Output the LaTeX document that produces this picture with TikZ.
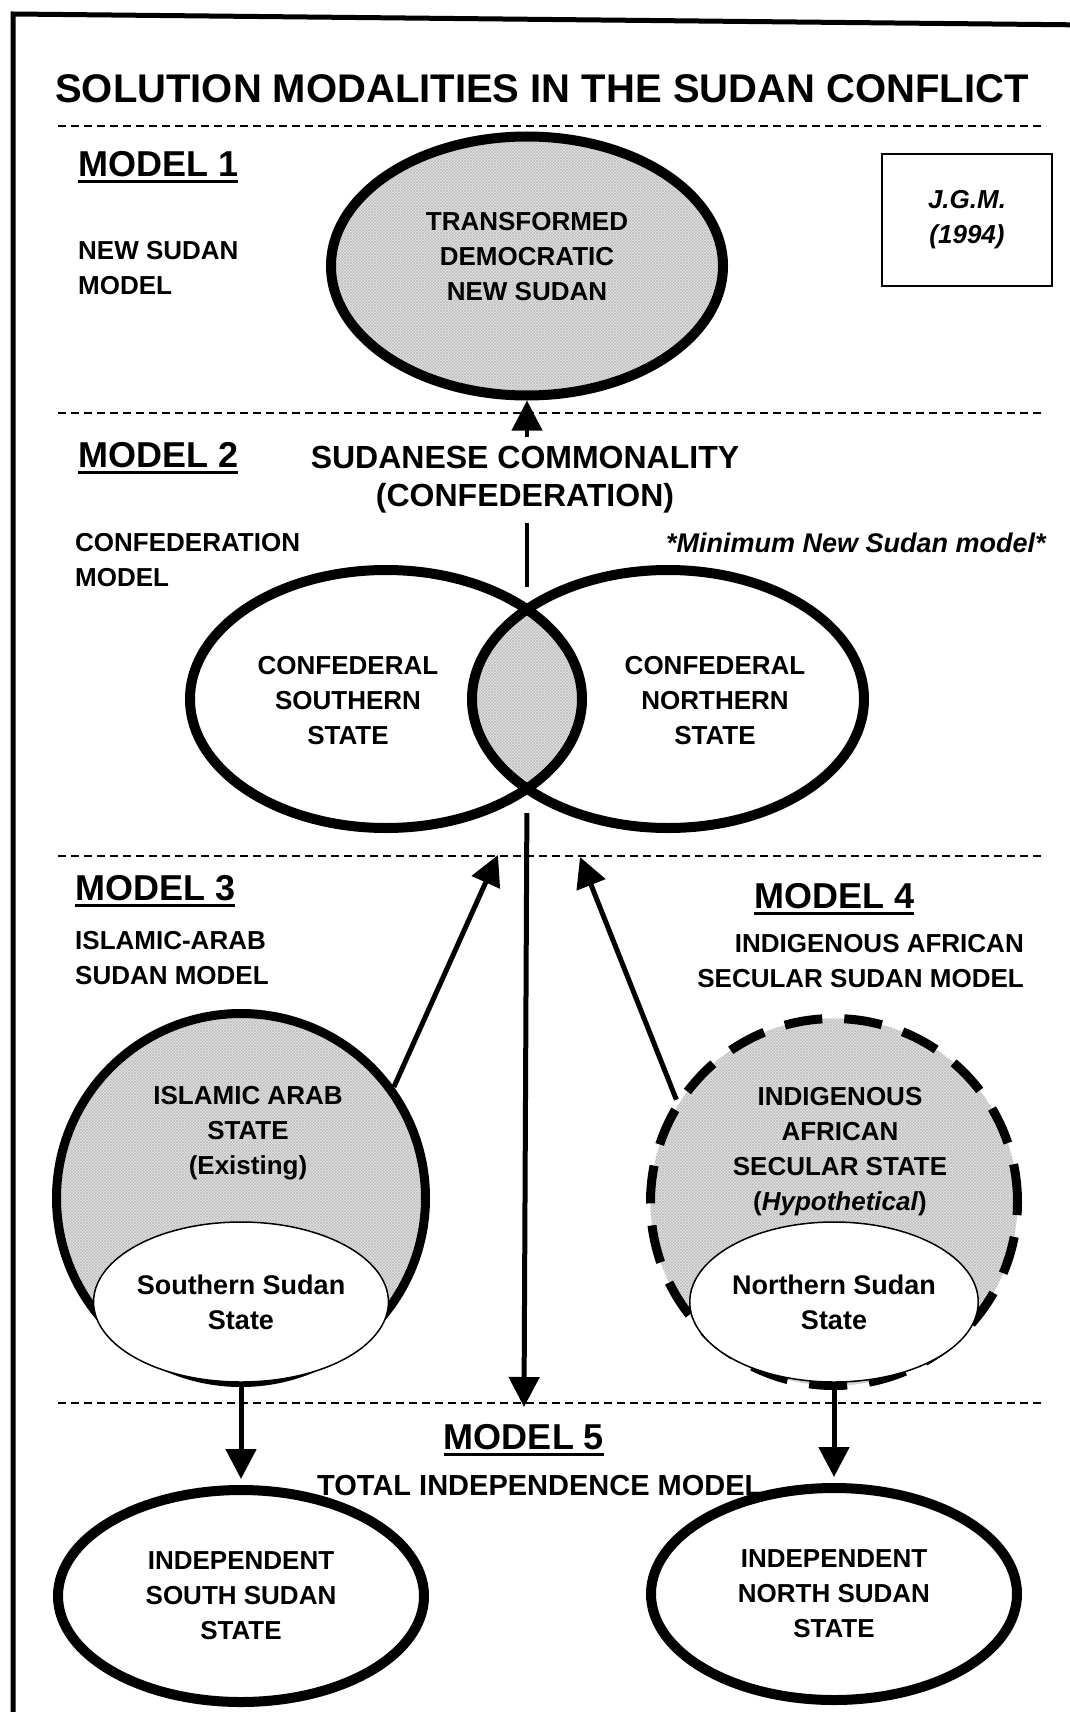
\documentclass[tikz,border=0pt]{standalone}
\usepackage{fontspec}
\setmainfont{Liberation Sans}
\usetikzlibrary{arrows.meta,shapes.geometric,patterns}

\tikzset{
  hatched/.style={preaction={fill=black!10}, pattern=crosshatch, pattern color=black!26},
  divider/.style={line width=2pt, dash pattern=on 8pt off 5pt},
  txt/.style={font=\fontsize{26}{35}\selectfont\bfseries, align=center, inner sep=0pt},
  modelhead/.style={font=\fontsize{36}{40}\selectfont\bfseries, inner sep=0pt, anchor=base west},
  oval/.style={ellipse, draw, line width=10pt},
  substate/.style={ellipse, draw, fill=white, line width=1.5pt, minimum width=274pt, minimum height=160pt, inner sep=0pt},
  arr/.style={line width=5pt, -{Triangle[length=30pt,width=30pt]}},
}

\begin{document}
\begin{tikzpicture}[x=1pt,y=-1pt]
	\useasboundingbox (0,0) rectangle (1070,1712);
	\fill[white] (0,0) rectangle (1070,1712);
	\clip (0,0) rectangle (1070,1712);
	% frame and section dividers
	\draw[line width=5pt] (13,1730) -- (13,14) -- (1090,25);
	\foreach \y in {126, 413, 856, 1403}{
		\draw[divider] (58,\y) -- (1046,\y);
	}
	\node[font=\fontsize{40}{44}\selectfont\bfseries, inner sep=0pt, anchor=base west] (title) at (55,103) {SOLUTION MODALITIES IN THE SUDAN CONFLICT};

	% model 1
	\node[modelhead] (m1) at (78,177) {MODEL 1};
	\node[txt, align=left, anchor=north west] (m1name) at (78,241) {NEW SUDAN\\MODEL};
	\node[oval, hatched, minimum width=392pt, minimum height=259pt] (newsudan) at (527,266) {};
	\node[txt] (newsudantxt) at (527,257) {TRANSFORMED\\DEMOCRATIC\\NEW SUDAN};
	\node[draw, line width=2pt, minimum width=170pt, minimum height=131pt, txt, font=\fontsize{26}{35}\selectfont\bfseries\itshape] (jgm) at (967,220) {J.G.M.\\(1994)};

	% model 2
	\node[modelhead] (m2) at (78,467) {MODEL 2};
	\node[txt, align=left, anchor=north west] (m2name) at (75,533) {CONFEDERATION\\MODEL};
	\node[font=\fontsize{27}{35}\selectfont\bfseries\itshape, inner sep=0pt, anchor=base west] (minimum) at (666,552) {*Minimum New Sudan model*};
	\coordinate (lenstop) at (527,609);
	\coordinate (lensbot) at (527,789);
	\draw[arr, line width=4pt, shorten <=22pt] (lenstop) -- (newsudan.south);
	\node[txt, font=\fontsize{32}{38}\selectfont\bfseries, fill=white, inner sep=10pt] (common) at (525,480) {SUDANESE COMMONALITY\\(CONFEDERATION)};
	\begin{scope}
		\clip (386,699) ellipse [x radius=196pt, y radius=129pt];
		\fill[hatched] (668,699) ellipse [x radius=196pt, y radius=129pt];
	\end{scope}
	\node[oval, minimum width=392pt, minimum height=258pt] (cfsouth) at (386,699) {};
	\node[oval, minimum width=392pt, minimum height=258pt] (cfnorth) at (668,699) {};
	\node[txt] (cfsouthtxt) at (348,701) {CONFEDERAL\\SOUTHERN\\STATE};
	\node[txt] (cfnorthtxt) at (715,701) {CONFEDERAL\\NORTHERN\\STATE};

	% models 3 and 4
	\node[modelhead] (m3) at (75,900) {MODEL 3};
	\node[txt, align=left, anchor=north west] (m3name) at (75,931) {ISLAMIC-ARAB\\SUDAN MODEL};
	\node[modelhead] (m4) at (754,908) {MODEL 4};
	\node[txt, align=right, anchor=north east] (m4name) at (1024,934) {INDIGENOUS AFRICAN\\SECULAR SUDAN MODEL};
	\node[circle, draw, line width=9pt, hatched, minimum size=369pt] (islamic) at (241,1198) {};
	\node[circle, draw, line width=9pt, dash pattern=on 38pt off 22pt, hatched, minimum size=367pt] (african) at (834,1202) {};
	\node[txt] (islamictxt) at (248,1133) {ISLAMIC ARAB\\STATE\\(Existing)};
	\node[txt] (africantxt) at (840,1152) {INDIGENOUS\\AFRICAN\\SECULAR STATE\\(\textit{Hypothetical})};
	\node[substate, txt, font=\fontsize{27}{35}\selectfont\bfseries] (ssub) at (241,1302) {Southern Sudan\\State};
	\node[substate, txt, font=\fontsize{27}{35}\selectfont\bfseries] (nsub) at (834,1302) {Northern Sudan\\State};
	\coordinate (tipl) at (498,855);
	\coordinate (tipr) at (580,857);
	\draw[arr] (islamic.36) -- (tipl);
	\draw[arr] (african.147) -- (tipr);

	% model 5
	\coordinate (m5top) at (524,1407);
	\draw[arr, shorten <=24pt] (lensbot) -- (m5top);
	\node[modelhead, anchor=base] (m5) at (524,1449) {MODEL 5};
	\node[txt, font=\fontsize{29}{35}\selectfont\bfseries, anchor=base west] (m5name) at (317,1495) {TOTAL INDEPENDENCE MODEL};
	\node[oval, txt, fill=white, minimum width=366pt, minimum height=212pt] (indsouth) at (241,1596) {INDEPENDENT\\SOUTH SUDAN\\STATE};
	\node[oval, txt, fill=white, minimum width=366pt, minimum height=212pt] (indnorth) at (834,1594) {INDEPENDENT\\NORTH SUDAN\\STATE};
	\draw[arr, shorten >=6pt] (ssub.south) -- (indsouth.north);
	\draw[arr, shorten >=6pt] (nsub.south) -- (indnorth.north);

	% underlines of the model headings
	\foreach \m in {m1, m2, m3, m4, m5}{
		\draw[line width=3pt] ([yshift=-5pt]\m.base west) -- ([yshift=-5pt]\m.base east);
	}
\end{tikzpicture}
\end{document}
